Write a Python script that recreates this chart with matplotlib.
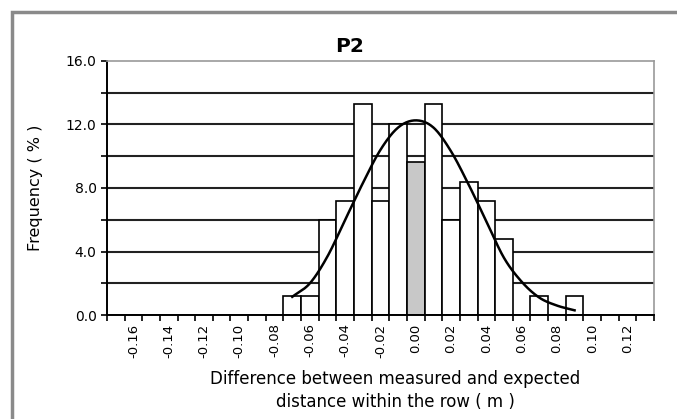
import matplotlib
matplotlib.use("Agg")
import matplotlib.pyplot as plt
import matplotlib.patches as patches
import numpy as np

# categories (bin centres, m) and frequency per bin (%)
categories = ["-0.17", "-0.16", "-0.15", "-0.14", "-0.13", "-0.12", "-0.11", "-0.10",
              "-0.09", "-0.08", "-0.07", "-0.06", "-0.05", "-0.04", "-0.03", "-0.02",
              "-0.01", "0.00", "0.01", "0.02", "0.03", "0.04", "0.05", "0.06",
              "0.07", "0.08", "0.09", "0.10", "0.11", "0.12", "0.13"]
frequency = [0, 0, 0, 0, 0, 0, 0, 0,
             0, 0, 1.2, 1.2, 6.0, 7.2, 13.3, 7.2,
             12.0, 9.6, 13.3, 6.0, 8.4, 7.2, 4.8, 0,
             1.2, 0, 1.2, 0, 0, 0, 0]
highlight = "0.00"

# fitted normal curve, read at bins -0.07 .. 0.09
curve_cats = ["-0.07", "-0.06", "-0.05", "-0.04", "-0.03", "-0.02", "-0.01", "0.00",
              "0.01", "0.02", "0.03", "0.04", "0.05", "0.06", "0.07", "0.08", "0.09"]
curve_vals = [1.15, 2.0, 3.7, 6.0, 8.3, 10.4, 11.8, 12.25,
              11.8, 10.3, 8.2, 5.9, 3.6, 2.1, 1.1, 0.6, 0.3]


def smooth(x, y, n=20):
    # Catmull-Rom spline through the points, like a smoothed Excel line
    x = np.asarray(x, float)
    y = np.asarray(y, float)
    px = np.concatenate([[2 * x[0] - x[1]], x, [2 * x[-1] - x[-2]]])
    py = np.concatenate([[2 * y[0] - y[1]], y, [2 * y[-1] - y[-2]]])
    xs, ys = [], []
    t = np.linspace(0, 1, n, endpoint=False)
    for i in range(1, len(px) - 2):
        for p, out in ((px, xs), (py, ys)):
            p0, p1, p2, p3 = p[i - 1], p[i], p[i + 1], p[i + 2]
            out.extend(0.5 * (2 * p1 + (-p0 + p2) * t + (2 * p0 - 5 * p1 + 4 * p2 - p3) * t ** 2
                              + (-p0 + 3 * p1 - 3 * p2 + p3) * t ** 3))
    xs.append(x[-1])
    ys.append(y[-1])
    return np.array(xs), np.array(ys)


fig = plt.figure(figsize=(6.77, 4.19), dpi=100)
ax = fig.add_axes([0.158, 0.248, 0.808, 0.607])

pos = np.arange(len(categories))
colors = ["#c8c8c8" if c == highlight else "white" for c in categories]
ax.bar(pos, frequency, width=1.0, color=colors, edgecolor="black", linewidth=1.2, zorder=2)

cx = [categories.index(c) for c in curve_cats]
sx, sy = smooth(cx, curve_vals)
ax.plot(sx, sy, color="black", linewidth=1.8, zorder=3)

ax.set_xlim(-0.5, len(categories) - 0.5)
ax.set_ylim(0, 16)

# y axis
ax.set_yticks(np.arange(0, 16.1, 4))
ax.set_yticks(np.arange(2, 16, 4), minor=True)
ax.set_yticklabels(["%.1f" % v for v in np.arange(0, 16.1, 4)], fontsize=10)
ax.tick_params(axis="y", which="both", direction="out", length=4, width=1.2)
for v in np.arange(2, 16, 2):
    ax.axhline(v, color="#222222", linewidth=1.5, zorder=1)

# x axis: tick marks between bins, labels on every other bin
ax.set_xticks(np.arange(-0.5, len(categories), 1.0))
ax.set_xticklabels([])
ax.tick_params(axis="x", which="major", direction="out", length=4, width=1.2)
lab_pos = pos[1::2]
ax.set_xticks(lab_pos, minor=True)
ax.set_xticklabels([categories[i] for i in lab_pos], minor=True, rotation=90, fontsize=9.5)
ax.tick_params(axis="x", which="minor", length=0, pad=6)

for s in ["left", "bottom"]:
    ax.spines[s].set_linewidth(1.4)
for s in ["top", "right"]:
    ax.spines[s].set_color("#999999")
    ax.spines[s].set_linewidth(1.2)

ax.set_ylabel("Frequency ( % )", fontsize=11.5)
ax.yaxis.set_label_coords(-0.117, 0.5)
ax.set_xlabel("Difference between measured and expected\ndistance within the row ( m )",
              fontsize=12, linespacing=1.4)
ax.xaxis.set_label_coords(0.527, -0.215)

fig.text(350 / 677, 1 - 46 / 419, "P2", fontsize=14.5, fontweight="bold",
         ha="center", va="center")

# chart area frame
fig.patches.append(patches.Rectangle((12 / 677, -0.1), 1.2, 1.1 - 12 / 419,
                                     transform=fig.transFigure, fill=False,
                                     edgecolor="#8a8a8a", linewidth=2.5))

fig.savefig("out.png", dpi=100)
